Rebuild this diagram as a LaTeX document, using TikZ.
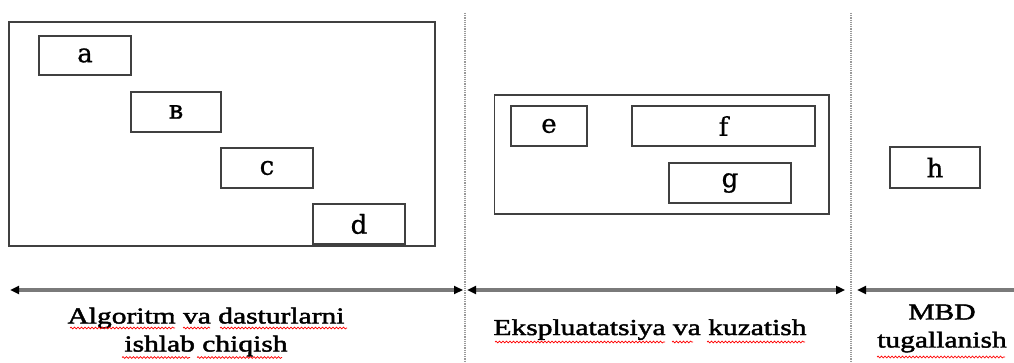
\documentclass[tikz,border=0pt]{standalone}
\usepackage{fontspec}
\setmainfont{Liberation Serif}
\newfontfamily\labelfont{Liberation Serif}[FakeStretch=1.3,FakeBold=2]
\newfontfamily\boxfont{DejaVu Serif}[FakeBold=0.8]
\usetikzlibrary{arrows.meta,decorations.pathmorphing}

\definecolor{boxline}{HTML}{404040}
\definecolor{axisline}{HTML}{7A7A7A}
\definecolor{sepline}{HTML}{9A9A9A}

\tikzset{
  stagebox/.style={draw=boxline, line width=1.6pt, rectangle, inner sep=0pt,
    font=\boxfont\fontsize{26}{30}\selectfont},
  groupframe/.style={draw=boxline, line width=1.6pt, rectangle, inner sep=0pt},
  phaselabel/.style={inner sep=0pt, align=center,
    font=\labelfont\fontsize{22.7}{28}\selectfont},
  phasearrow/.style={draw=axisline, line width=3.2pt},
  tipstyle/.tip={Triangle[length=9pt,width=8pt,color=black]},
  separator/.style={draw=sepline, line width=1.4pt, dash pattern=on 1.2pt off 1pt},
  spellmark/.style={draw=red, line width=0.7pt,
    decorate, decoration={snake, segment length=3.5pt, amplitude=0.9pt}}
}

\begin{document}
\begin{tikzpicture}[x=1pt,y=-1pt]
\useasboundingbox (0,0) rectangle (1014,363);

% phase 1: algorithm and program development
\node[groupframe, minimum width=426pt, minimum height=224pt] (dev) at (222,134) {};
\node[stagebox, minimum width=92pt, minimum height=39pt] (a) at (85,55.5) {a};
\node[stagebox, minimum width=90pt, minimum height=40pt] (b) at (176,112) {в};
\node[stagebox, minimum width=92pt, minimum height=40pt] (c) at (267,168) {c};
\node[stagebox, minimum width=92pt, minimum height=40pt] (d) at (359,224) {d};

% phase 2: operation and monitoring
\node[groupframe, minimum width=334.5pt, minimum height=119pt] (ops) at (661.75,154.5) {};
\node[stagebox, minimum width=76pt, minimum height=40pt] (e) at (549,126) {e};
\node[stagebox, minimum width=183pt, minimum height=40pt] (f) at (723.5,126) {f};
\node[stagebox, minimum width=122pt, minimum height=40pt] (g) at (730,183) {g};

% phase 3: end of the database life
\node[stagebox, minimum width=90pt, minimum height=41pt] (h) at (935,167.5) {h};

% phase separators
\coordinate (s1top) at (465,13);
\coordinate (s1bot) at (465,363);
\coordinate (s2top) at (851,13);
\coordinate (s2bot) at (851,363);
\draw[separator] (s1top) -- (s1bot);
\draw[separator] (s2top) -- (s2bot);

% time axis split into phases
\coordinate (p1l) at (10,290);
\coordinate (p1r) at (463,290);
\coordinate (p2l) at (467,290);
\coordinate (p2r) at (845,290);
\coordinate (p3l) at (857,290);
\coordinate (p3r) at (1014,290);
\draw[phasearrow, {tipstyle}-{tipstyle}] (p1l) -- (p1r);
\draw[phasearrow, {tipstyle}-{tipstyle}] (p2l) -- (p2r);
\draw[phasearrow, {tipstyle}-] (p3l) -- (p3r);

% phase names
\node[phaselabel] (l1) at (206,332) {Algoritm va dasturlarni\\ishlab chiqish};
\node[phaselabel, anchor=base] (l2) at (650,335) {Ekspluatatsiya va kuzatish};
\node[phaselabel] (l3) at (942,328.5) {MBD\\tugallanish};

% spelling marks under the words
\draw[spellmark] (70,328) -- (175,328);
\draw[spellmark] (183,328) -- (210,328);
\draw[spellmark] (220,328) -- (347,328);
\draw[spellmark] (122,357.5) -- (190,357.5);
\draw[spellmark] (197,357.5) -- (282,357.5);
\draw[spellmark] (495,342) -- (665,342);
\draw[spellmark] (672,342) -- (693,342);
\draw[spellmark] (707,342) -- (805,342);
\draw[spellmark] (877,357) -- (1005,357);
\end{tikzpicture}
\end{document}
